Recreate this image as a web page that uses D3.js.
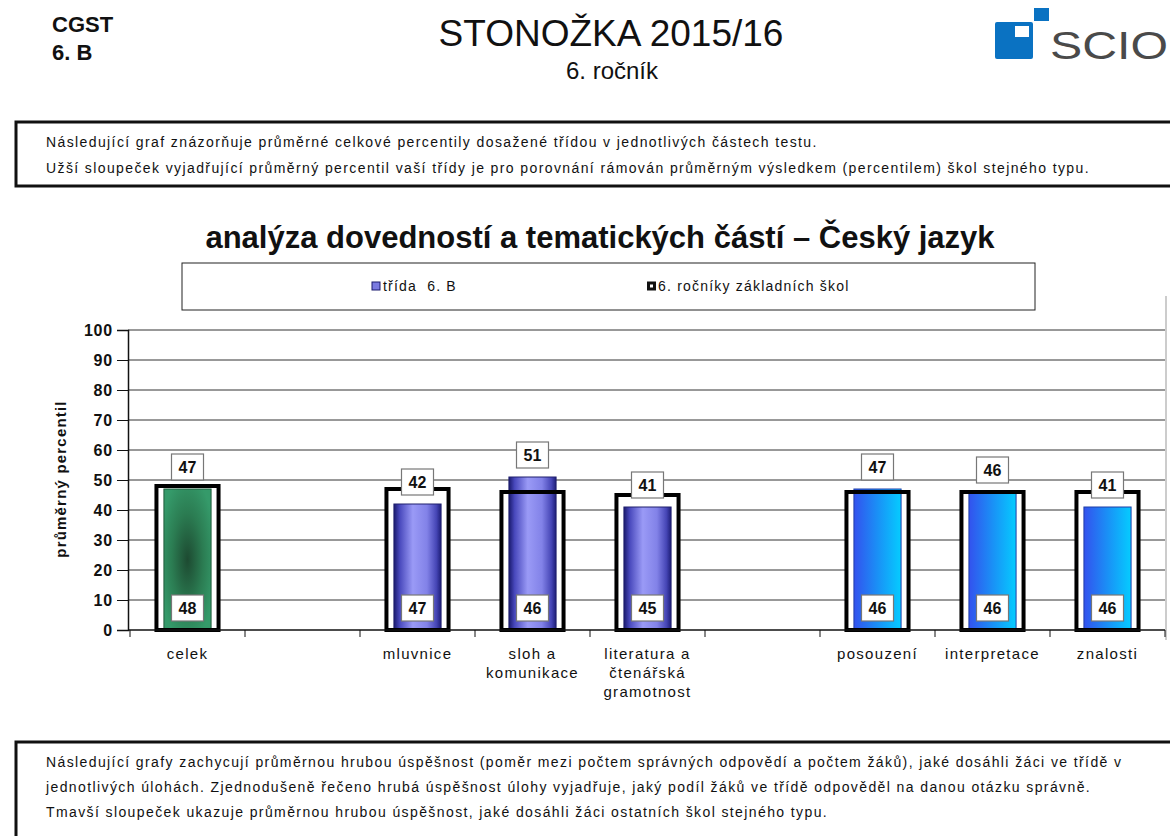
<!DOCTYPE html>
<html>
<head>
<meta charset="utf-8">
<script src="https://cdn.jsdelivr.net/npm/d3@7"></script>
<style>
  body { margin: 0; background: #fff; }
  svg { display: block; font-family: "Liberation Sans", Arial, sans-serif; }
</style>
</head>
<body>
<svg id="chart"></svg>
<script>
// data
const categories = ['celek', '', 'mluvnice', 'sloh a|komunikace', 'literatura a|čtenářská|gramotnost', '', 'posouzení', 'interpretace', 'znalosti'];
const groups = ['celek', null, 'tematicke', 'tematicke', 'tematicke', null, 'dovednosti', 'dovednosti', 'dovednosti'];
const classValues = [47, null, 42, 51, 41, null, 47, 46, 41];
const schoolValues = [48, null, 47, 46, 45, null, 46, 46, 46];
const yTicks = [0, 10, 20, 30, 40, 50, 60, 70, 80, 90, 100];
const legendLabels = ['třída  6. B', '6. ročníky základních škol'];
const chartTitle = 'analýza dovedností a tematických částí – Český jazyk';
const yTitle = 'průměrný percentil';
const headerLeft = ['CGST', '6. B'];
const headerTitle = 'STONOŽKA 2015/16';
const headerSub = '6. ročník';
const introLines = [
  'Následující graf znázorňuje průměrné celkové percentily dosažené třídou v jednotlivých částech testu.',
  'Užší sloupeček vyjadřující průměrný percentil vaší třídy je pro porovnání rámován průměrným výsledkem (percentilem) škol stejného typu.'
];
const outroLines = [
  'Následující grafy zachycují průměrnou hrubou úspěšnost (poměr mezi počtem správných odpovědí a počtem žáků), jaké dosáhli žáci ve třídě v',
  'jednotlivých úlohách. Zjednodušeně řečeno hrubá úspěšnost úlohy vyjadřuje, jaký podíl žáků ve třídě odpověděl na danou otázku správně.',
  'Tmavší sloupeček ukazuje průměrnou hrubou úspěšnost, jaké dosáhli žáci ostatních škol stejného typu.'
];

const width = 1170, height = 836;
const svg = d3.select('#chart').attr('width', width).attr('height', height);

// gradients for the class bars
const defs = svg.append('defs');
const green = defs.append('radialGradient').attr('id', 'g-celek')
  .attr('cx', 0.5).attr('cy', 0.5).attr('r', 0.6);
[[0, '#1d4a31'], [0.55, '#2b7c52'], [1, '#359a6a']].forEach(s =>
  green.append('stop').attr('offset', s[0]).attr('stop-color', s[1]));
const violet = defs.append('linearGradient').attr('id', 'g-tematicke');
[[0, '#1a1a6e'], [0.12, '#4848bc'], [0.4, '#9a9af6'], [0.7, '#8282e8'], [0.9, '#4646b6'], [1, '#1e1e78']].forEach(s =>
  violet.append('stop').attr('offset', s[0]).attr('stop-color', s[1]));
const cyan = defs.append('linearGradient').attr('id', 'g-dovednosti');
[[0, '#3352ee'], [0.5, '#1a90f6'], [1, '#05ccff']].forEach(s =>
  cyan.append('stop').attr('offset', s[0]).attr('stop-color', s[1]));
const barStroke = { celek: '#1f5a3c', tematicke: '#20206e', dovednosti: '#1f3fa8' };

// header
svg.selectAll('.hl').data(headerLeft).enter().append('text')
  .attr('x', 52).attr('y', (d, i) => 32 + i * 28)
  .attr('font-size', 22).attr('font-weight', 'bold').attr('fill', '#111')
  .text(d => d);
svg.append('text').attr('x', 611).attr('y', 46).attr('text-anchor', 'middle')
  .attr('font-size', 37).attr('fill', '#111').text(headerTitle);
svg.append('text').attr('x', 612).attr('y', 79).attr('text-anchor', 'middle')
  .attr('font-size', 24).attr('fill', '#111').text(headerSub);

// logo
const logo = svg.append('g');
logo.append('rect').attr('x', 995).attr('y', 22).attr('width', 38).attr('height', 37).attr('rx', 2).attr('fill', '#0a72c2');
logo.append('rect').attr('x', 1015).attr('y', 26).attr('width', 14).attr('height', 11).attr('fill', '#fff');
logo.append('rect').attr('x', 1034).attr('y', 8).attr('width', 15).attr('height', 13).attr('fill', '#0a72c2');
logo.append('text').attr('x', 1050).attr('y', 59).attr('font-size', 38)
  .attr('textLength', 118).attr('lengthAdjust', 'spacingAndGlyphs')
  .attr('fill', '#4a4a4a').text('SCIO');

// note boxes, all lines share one letter spacing
const noteTexts = [];
function noteBox(y0, h, lines, lineGap) {
  svg.append('rect').attr('x', 16).attr('y', y0).attr('width', 1170).attr('height', h)
    .attr('fill', 'none').attr('stroke', '#111').attr('stroke-width', 3);
  const t = svg.selectAll(null).data(lines).enter().append('text')
    .attr('x', 46).attr('y', (d, i) => y0 + 25 + i * lineGap)
    .attr('font-size', 14).attr('fill', '#111')
    .text(d => d);
  noteTexts.push(t);
}
noteBox(122, 64, introLines, 26);
noteBox(742, 130, outroLines, 25);
// fit the long intro line to its width in the reference
const refLine = noteTexts[0].filter((d, i) => i === 1).node();
const ls = (1044 - refLine.getComputedTextLength()) / introLines[1].length;
noteTexts.forEach(t => t.attr('letter-spacing', ls));

// title
svg.append('text').attr('x', 600).attr('y', 248).attr('text-anchor', 'middle')
  .attr('font-size', 31).attr('font-weight', 'bold').attr('fill', '#111').text(chartTitle);

// legend
const legend = svg.append('g');
legend.append('rect').attr('x', 182).attr('y', 263).attr('width', 853).attr('height', 47)
  .attr('fill', '#fff').attr('stroke', '#222').attr('stroke-width', 1);
const legX = [372, 647];
legend.append('rect').attr('x', legX[0]).attr('y', 282).attr('width', 8).attr('height', 8)
  .attr('fill', '#7a7ae0').attr('stroke', '#1a1a6e');
legend.append('rect').attr('x', legX[1]).attr('y', 281.5).attr('width', 9).attr('height', 9).attr('fill', '#111');
legend.append('rect').attr('x', legX[1] + 3).attr('y', 284.5).attr('width', 3).attr('height', 3).attr('fill', '#fff');
legend.selectAll('.lt').data(legendLabels).enter().append('text')
  .attr('x', (d, i) => legX[i] + 11).attr('y', 291)
  .attr('font-size', 14).attr('letter-spacing', 1.2).attr('fill', '#111').attr('xml:space', 'preserve')
  .text(d => d);

// scales
const x = d3.scaleBand().domain(d3.range(categories.length)).range([130, 1165]);
const y = d3.scaleLinear().domain([0, 100]).range([630, 330]);
const bw = x.bandwidth();
const frameW = bw * 0.54, barW = bw * 0.41;

// plot right border
svg.append('line').attr('x1', 1166).attr('x2', 1166).attr('y1', 296).attr('y2', 640)
  .attr('stroke', '#999');

// grid
svg.append('g').selectAll('line').data(yTicks.filter(d => d > 0)).enter().append('line')
  .attr('x1', 128).attr('x2', 1165).attr('y1', d => y(d)).attr('y2', d => y(d))
  .attr('stroke', '#333').attr('stroke-width', 1);

// y axis
const yAxis = svg.append('g').attr('transform', 'translate(128,0)')
  .call(d3.axisLeft(y).tickValues(yTicks).tickSize(11).tickPadding(4));
yAxis.select('.domain').attr('stroke', '#111').attr('stroke-width', 1.5);
yAxis.selectAll('.tick line').attr('stroke', '#111');
yAxis.selectAll('.tick text').attr('font-size', 16).attr('font-weight', 'bold')
  .attr('letter-spacing', 0.8).attr('fill', '#111')
  .attr('font-family', '"Liberation Sans", Arial, sans-serif');

svg.append('text').attr('transform', 'translate(66,479) rotate(-90)')
  .attr('text-anchor', 'middle').attr('font-size', 15).attr('font-weight', 'bold')
  .attr('letter-spacing', 1.2).attr('fill', '#111').text(yTitle);

// data
const rows = categories.map((c, i) => ({
  i, label: c, group: groups[i], cls: classValues[i], school: schoolValues[i]
})).filter(d => d.cls != null);

const cx = d => x(d.i) + bw / 2;

// school frames (white fill)
svg.append('g').selectAll('rect').data(rows).enter().append('rect')
  .attr('x', d => cx(d) - frameW / 2).attr('y', d => y(d.school))
  .attr('width', frameW).attr('height', d => y(0) - y(d.school))
  .attr('fill', '#fff');

// class bars
svg.append('g').selectAll('rect').data(rows).enter().append('rect')
  .attr('x', d => cx(d) - barW / 2).attr('y', d => y(d.cls))
  .attr('width', barW).attr('height', d => y(0) - y(d.cls))
  .attr('fill', d => `url(#g-${d.group})`)
  .attr('stroke', d => barStroke[d.group]).attr('stroke-width', 1);

// school frame outlines
svg.append('g').selectAll('rect').data(rows).enter().append('rect')
  .attr('x', d => cx(d) - frameW / 2).attr('y', d => y(d.school))
  .attr('width', frameW).attr('height', d => y(0) - y(d.school))
  .attr('fill', 'none').attr('stroke', '#000').attr('stroke-width', 4);

// x axis
svg.append('line').attr('x1', 128).attr('x2', 1165).attr('y1', 630).attr('y2', 630)
  .attr('stroke', '#111').attr('stroke-width', 1.5);
svg.append('g').selectAll('line').data(d3.range(categories.length + 1)).enter().append('line')
  .attr('x1', d => 130 + d * bw).attr('x2', d => 130 + d * bw)
  .attr('y1', 630).attr('y2', 637).attr('stroke', '#111');

svg.append('g').selectAll('text').data(rows).enter().append('text')
  .attr('x', cx).attr('y', 659).attr('text-anchor', 'middle')
  .attr('font-size', 15).attr('letter-spacing', 1.3).attr('fill', '#111')
  .each(function (d) {
    d3.select(this).selectAll('tspan').data(d.label.split('|')).enter().append('tspan')
      .attr('x', cx(d)).attr('dy', (t, k) => k === 0 ? 0 : 19).text(t => t);
  });

// value labels
function valueBox(sel, yPos, val) {
  const g = sel.append('g').selectAll('g').data(rows).enter().append('g')
    .attr('transform', d => `translate(${cx(d)},${yPos(d)})`);
  g.append('rect').attr('x', -16).attr('y', -13).attr('width', 32).attr('height', 26)
    .attr('fill', '#fff').attr('stroke', '#777').attr('stroke-width', 1.2);
  g.append('text').attr('y', 6).attr('text-anchor', 'middle')
    .attr('font-size', 16).attr('font-weight', 'bold').attr('fill', '#111')
    .text(val);
}
valueBox(svg, d => y(d.cls) - 22, d => d.cls);
valueBox(svg, d => y(0) - 22, d => d.school);
</script>
</body>
</html>
